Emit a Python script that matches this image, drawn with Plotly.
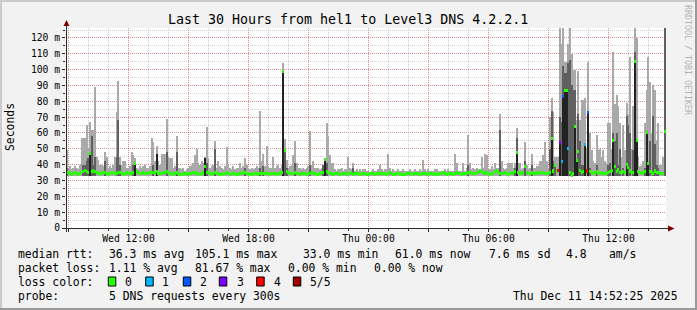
import pandas as pd
import plotly.graph_objects as go

# ---------------- data ----------------
START = "2025-12-10 08:52:25"
END = "2025-12-11 14:52:25"
STEP_MIN = 5  # one sample every 300 s -> 360 samples over 30 h

median_ms = [
    34.8, 35.2, 34.6, 34.1, 34.5, 35.0, 34.3, 34.0, 34.6, 35.4, 35.8, 36.1, 35.5, 34.9, 47.0, 35.9, 36.0, 35.6, 34.8, 34.4,
    34.2, 34.6, 35.1, 34.8, 34.3, 34.0, 34.5, 34.9, 35.3, 34.7, 34.4, 35.0, 35.2, 34.6, 34.1, 34.3, 34.8, 34.5, 34.2, 34.7,
    35.0, 41.0, 35.4, 34.8, 34.3, 34.6, 34.9, 34.4, 34.2, 34.5, 34.8, 35.1, 35.3, 34.9, 35.6, 34.7, 34.5, 34.3, 34.8, 35.0,
    35.4, 34.9, 34.6, 34.2, 34.0, 34.4, 34.8, 34.5, 34.1, 33.9, 34.3, 34.6, 34.4, 34.0, 34.2, 34.5, 34.9, 35.2, 34.7, 34.3,
    34.1, 34.6, 35.0, 38.8, 35.3, 34.8, 34.4, 34.0, 34.3, 35.0, 34.7, 34.4, 34.1, 33.8, 34.2, 34.5, 34.8, 34.3, 34.0, 34.4,
    34.6, 34.2, 33.9, 34.1, 34.5, 34.8, 34.4, 34.9, 34.5, 34.2, 33.8, 34.0, 34.3, 34.6, 34.2, 34.0, 34.4, 34.7, 34.3, 34.5,
    34.8, 34.4, 34.1, 34.3, 34.6, 34.2, 34.0, 34.4, 34.7, 34.9, 99.0, 48.8, 35.6, 35.0, 34.6, 34.2, 34.5, 34.9, 34.6, 34.3,
    34.0, 34.2, 34.5, 34.3, 34.1, 34.4, 34.7, 35.0, 34.6, 34.2, 33.9, 34.1, 34.4, 34.8, 35.1, 43.0, 35.4, 34.9, 34.5, 34.2,
    34.0, 34.3, 34.6, 34.2, 34.0, 34.4, 34.7, 34.3, 34.1, 34.5, 34.8, 34.4, 34.0, 34.2, 34.5, 34.3, 34.0, 34.2, 34.6, 34.3,
    34.1, 34.0, 34.3, 34.5, 34.2, 34.0, 34.4, 34.6, 34.3, 34.7, 34.5, 34.2, 34.0, 34.4, 34.8, 34.3, 34.1, 33.9, 34.2, 34.5,
    34.3, 34.0, 33.8, 34.1, 34.4, 34.2, 34.5, 34.3, 34.0, 34.2, 34.6, 34.3, 34.1, 34.4, 34.7, 34.2, 34.0, 34.3, 34.5, 34.2,
    34.0, 34.3, 34.1, 33.9, 34.2, 34.5, 34.8, 34.4, 34.1, 34.3, 34.6, 34.2, 34.0, 34.4, 34.9, 34.5, 34.2, 34.0, 34.3, 34.6,
    34.4, 34.8, 35.1, 34.6, 34.2, 34.5, 34.9, 35.2, 36.0, 35.4, 34.9, 34.5, 34.8, 34.3, 34.0, 34.4, 34.7, 35.5, 36.2, 35.0,
    34.6, 34.2, 34.5, 34.9, 34.4, 34.1, 34.6, 35.0, 34.7, 35.8, 47.5, 35.2, 34.6, 34.3, 34.8, 39.0, 35.3, 34.7, 34.4, 34.9,
    34.5, 34.2, 34.6, 34.9, 34.4, 34.8, 35.2, 34.7, 34.3, 34.6, 35.0, 56.6, 36.0, 39.6, 35.5, 36.3, 54.0, 41.7, 82.8, 87.0,
    87.0, 50.0, 35.0, 33.0, 34.5, 64.0, 42.5, 48.0, 36.5, 35.2, 35.8, 53.0, 36.0, 72.7, 35.4, 34.9, 34.5, 35.0, 35.8, 34.6,
    34.3, 34.8, 34.5, 34.2, 34.6, 35.2, 35.8, 36.3, 55.1, 39.0, 35.5, 36.8, 35.2, 34.8, 35.6, 34.9, 40.0, 38.0, 36.0, 35.2,
    34.8, 105.1, 55.0, 35.6, 34.9, 34.5, 35.1, 35.6, 60.0, 41.0, 35.8, 35.2, 34.7, 36.0, 35.3, 34.8, 34.5, 34.2, 34.7, 61.0,
]

smoke_max_ms = [
    49, 38, 39, 37, 38, 39, 38, 37, 40, 57, 57, 57, 65, 50, 67, 62, 62, 89, 45, 43,
    40, 40, 39, 48, 45, 38, 39, 38, 40, 45, 73, 93, 45, 40, 42, 42, 38, 38, 39, 48,
    46, 44, 38, 37, 39, 38, 39, 40, 38, 37, 39, 57, 54, 42, 52, 42, 40, 47, 47, 47,
    69, 45, 44, 44, 38, 39, 58, 38, 38, 37, 38, 36, 37, 38, 39, 40, 41, 46, 50, 41,
    40, 42, 41, 45, 64, 44, 38, 39, 40, 55, 38, 42, 39, 38, 37, 39, 51, 40, 38, 37,
    39, 37, 38, 38, 41, 38, 39, 44, 40, 38, 37, 38, 37, 38, 39, 38, 74, 42, 47, 39,
    52, 39, 38, 38, 45, 38, 39, 40, 38, 40, 104, 56, 43, 38, 39, 40, 46, 55, 41, 38,
    38, 37, 38, 37, 38, 39, 61, 40, 42, 38, 38, 38, 37, 38, 40, 43, 66, 58, 46, 41,
    41, 37, 36, 37, 37, 38, 36, 37, 37, 45, 38, 37, 41, 36, 37, 36, 37, 36, 37, 37,
    36, 36, 35.5, 36, 37, 36, 36, 37, 40, 37, 36, 37, 37, 47, 38, 36, 37, 36, 36, 37,
    36, 36, 37, 36, 36, 36, 37, 36, 36, 37, 36, 36, 37, 36, 43, 37, 36, 37, 36, 36,
    36, 37, 37, 36, 36, 36, 36, 37, 36, 37, 36, 36, 36, 47, 41, 36, 36, 36, 41, 36,
    38, 59, 41, 37, 38, 37, 38, 37, 37, 45, 38, 47, 46, 38, 37, 39, 37, 41, 38, 38,
    72, 42, 38, 37, 38, 41, 41, 41, 38, 41, 63, 41, 41, 37, 38, 54, 40, 37, 38, 47,
    38, 38, 39, 39, 42, 42, 46, 54, 42, 37, 70, 82, 73, 45, 45, 45, 130, 116, 130, 105,
    105, 116, 130, 110, 100, 100, 68, 99, 68, 81, 81, 82, 50, 105, 60, 49, 42, 41, 59, 49,
    50, 45, 49, 42, 41, 66, 66, 50, 111, 78, 84, 77, 66, 45, 65, 49, 79, 72, 108, 50,
    77, 130, 120, 45, 39, 40, 42, 66, 87, 108, 92, 60, 90, 87, 55, 66, 40, 40, 45, 130,
]
smoke_min_ms = 32.8

dark_slots = [0, 10, 11, 12, 13, 15, 16, 17, 23, 30, 31, 32, 40, 52, 54, 60, 66, 84, 89, 107,
              116, 118, 131, 132, 137, 146, 154, 156, 172, 241, 260, 269, 270, 275, 279, 290,
              291, 292, 293, 296, 297, 298, 299, 300, 301, 302, 303, 304, 305, 307, 308, 309,
              310, 313, 314, 318, 325, 326, 328, 329, 330, 331, 332, 334, 336, 337, 338, 340,
              341, 342, 347, 348, 350, 352, 353, 354, 355, 359]
dark_top_ms = [38, 40, 40, 42, 44, 58, 40, 45, 42, 45, 68, 40, 40, 40, 47, 48, 48, 41, 50, 38,
               38, 39, 49, 38, 41, 40, 40, 41, 38, 40, 62, 38, 57, 42, 40, 50,
               74, 42, 40, 70, 67, 102, 98, 98, 104, 106, 90, 87, 87, 72, 55, 40,
               40, 73, 38, 40, 40, 41, 60, 55, 60, 40, 50, 38, 71, 65, 60, 49,
               111, 55, 38, 60, 55, 71, 53, 40, 38, 130]

core_slots = [14, 41, 54, 83, 130, 155, 270, 291, 296, 298, 299, 300, 305, 306, 311, 313,
              328, 336, 341, 342, 348, 349]
core_top_ms = [47, 41, 47, 44, 99, 43, 47.5, 56.6, 54, 82.8, 87, 87, 64, 42.5, 53, 72.7,
               55.1, 40, 105.1, 55, 60, 41]

loss_slots = [295, 296, 297, 298, 301, 311, 312, 313]
loss_pings = [4, 3, 1, 2, 1, 1, 4, 2]

loss_legend_labels = ["0", "1", "2", "3", "4", "5/5"]
loss_legend_colors = ["#26ff00", "#00b8ff", "#0059ff", "#7e00ff", "#ff0000", "#a10000"]

x_tickvals = ["2025-12-10 09:00", "2025-12-10 12:00", "2025-12-10 15:00", "2025-12-10 18:00",
              "2025-12-10 21:00", "2025-12-11 00:00", "2025-12-11 03:00", "2025-12-11 06:00",
              "2025-12-11 09:00", "2025-12-11 12:00"]
x_ticktext = ["", "Wed 12:00", "", "Wed 18:00", "", "Thu 00:00", "", "Thu 06:00", "", "Thu 12:00"]
y_tickvals = [0, 10, 20, 30, 40, 50, 60, 70, 80, 90, 100, 110, 120]
y_ticktext = ["0", "10 m", "20 m", "30 m", "40 m", "50 m", "60 m", "70 m", "80 m",
              "90 m", "100 m", "110 m", "120 m"]

title_text = "Last 30 Hours from hel1 to Level3 DNS 4.2.2.1"
rtt_items = ["median rtt:", "36.3 ms avg", "105.1 ms max", "33.0 ms min", "61.0 ms now",
             "7.6 ms sd", "4.8", "am/s"]
loss_items = ["packet loss:", "1.11 % avg", "81.67 % max", "0.00 % min", "0.00 % now"]
probe_items = ["probe:", "5 DNS requests every 300s"]
stamp_text = "Thu Dec 11 14:52:25 2025"

# ---------------- geometry / style ----------------
FW, FH = 697, 310
L, T, W, H = 66, 28, 600, 200
YMAX = 126.3
MONO = "DejaVu Sans Mono"
LIGHT, DARK, CORE = "#a9a9a9", "#606060", "#222222"
GRID, MGRID = "rgba(143,143,143,0.42)", "rgba(240,0,0,0.30)"
AXIS, ARROW = "#2c2c2c", "#7f0000"
MED_HALF = 0.95


def px(x):
    return (x - L) / W


def py(y):
    return (T + H - y) / H


t0 = pd.Timestamp(START)
times = [t0 + pd.Timedelta(minutes=STEP_MIN * i + STEP_MIN / 2) for i in range(len(median_ms))]
bw = STEP_MIN * 60 * 1000

loss_by_slot = dict(zip(loss_slots, loss_pings))
med_colors = [loss_legend_colors[loss_by_slot.get(i, 0)] for i in range(len(median_ms))]

fig = go.Figure()
fig.add_bar(x=times, y=[v - smoke_min_ms for v in smoke_max_ms], base=smoke_min_ms, width=bw,
            marker=dict(color=LIGHT, line=dict(width=0)), hoverinfo="skip")
fig.add_bar(x=[times[i] for i in dark_slots], y=[v - smoke_min_ms for v in dark_top_ms],
            base=smoke_min_ms, width=bw, marker=dict(color=DARK, line=dict(width=0)), hoverinfo="skip")
fig.add_bar(x=[times[i] for i in core_slots], y=[v - smoke_min_ms for v in core_top_ms],
            base=smoke_min_ms, width=bw, marker=dict(color=CORE, line=dict(width=0)), hoverinfo="skip")
fig.add_bar(x=times, y=[2 * MED_HALF] * len(median_ms), base=[m - MED_HALF for m in median_ms],
            width=bw, marker=dict(color=med_colors, line=dict(width=0)), hoverinfo="skip")

ann = []


def text(s, x, y, size=11.4, anchor="left", color="#000", angle=0):
    ann.append(dict(text=s, x=px(x), y=py(y), xref="paper", yref="paper", showarrow=False,
                    xanchor=anchor, yanchor="middle", textangle=angle,
                    font=dict(family=MONO, size=size, color=color)))


text(title_text, 347.5, 19, size=13.3, anchor="center")
text("Seconds", 10, 127, size=11.4, anchor="center", angle=-90)
text("RRDTOOL / TOBI OETIKER", 688, 60, size=8.3, anchor="center", color="#b4b4b4", angle=90)

for s, x in zip(rtt_items, [16, 107.3, 192.7, 301, 393.3, 486.7, 564, 607.3]):
    text(s, x, 254)
for s, x in zip(loss_items, [16, 107.3, 192.7, 286, 371.7]):
    text(s, x, 268.3)
text("loss color:", 16, 281.7)
for s, x in zip(probe_items, [16, 107.3]):
    text(s, x, 296.3)
text(stamp_text, 680, 296.3, anchor="right")

box_x = [108.3, 145.7, 183.3, 219.3, 256.7, 293.3]
lab_x = [122.7, 160, 198.3, 235, 271.7, 308.3]
shapes = []
for lab, col, bx, lx in zip(loss_legend_labels, loss_legend_colors, box_x, lab_x):
    shapes.append(dict(type="rect", xref="paper", yref="paper", x0=px(bx), x1=px(bx + 7.5),
                       y0=py(286), y1=py(277), fillcolor=col, line=dict(color="#000", width=1),
                       layer="above"))
    text(lab, lx, 281.7)

# image frame
shapes += [
    dict(type="line", xref="paper", yref="paper", x0=px(0), x1=px(FW), y0=py(1), y1=py(1),
         line=dict(color="#cbcbcb", width=2)),
    dict(type="line", xref="paper", yref="paper", x0=px(1), x1=px(1), y0=py(0), y1=py(FH),
         line=dict(color="#cbcbcb", width=2)),
    dict(type="line", xref="paper", yref="paper", x0=px(0), x1=px(FW), y0=py(FH - 1), y1=py(FH - 1),
         line=dict(color="#999999", width=2)),
    dict(type="line", xref="paper", yref="paper", x0=px(FW - 1), x1=px(FW - 1), y0=py(0), y1=py(FH),
         line=dict(color="#999999", width=2)),
]
# axes with arrows
shapes += [
    dict(type="line", xref="paper", yref="paper", x0=px(62), x1=px(670), y0=py(228.5), y1=py(228.5),
         line=dict(color=AXIS, width=1), layer="above"),
    dict(type="line", xref="paper", yref="paper", x0=px(66.5), x1=px(66.5), y0=py(232), y1=py(24),
         line=dict(color=AXIS, width=1), layer="above"),
    dict(type="path", xref="paper", yref="paper",
         path=f"M {px(668)} {py(225.5)} L {px(674.5)} {py(228.5)} L {px(668)} {py(231.5)} Z",
         fillcolor=ARROW, line=dict(color=ARROW, width=0), layer="above"),
    dict(type="path", xref="paper", yref="paper",
         path=f"M {px(63.5)} {py(26)} L {px(66.5)} {py(20)} L {px(69.5)} {py(26)} Z",
         fillcolor=ARROW, line=dict(color=ARROW, width=0), layer="above"),
]

fig.update_layout(
    width=FW, height=FH, margin=dict(l=L, r=FW - L - W, t=T, b=FH - T - H, pad=0),
    paper_bgcolor="#f2f2f2", plot_bgcolor="#ffffff",
    barmode="overlay", bargap=0, showlegend=False,
    annotations=ann, shapes=shapes,
    xaxis=dict(type="date", range=[START, END], tickvals=x_tickvals, ticktext=x_ticktext,
               showgrid=True, gridcolor=MGRID, griddash="1px,1px", gridwidth=1,
               ticks="outside", ticklen=3, tickcolor=AXIS, ticklabelstandoff=-2,
               tickfont=dict(family=MONO, size=9.7, color="#000"),
               minor=dict(dtick=3600000, tick0="2025-12-10 00:00:00", showgrid=True,
                          gridcolor=GRID, griddash="1px,1px", gridwidth=1,
                          ticks="outside", ticklen=2, tickcolor=AXIS),
               showline=False, zeroline=False, fixedrange=True),
    yaxis=dict(range=[0, YMAX], tickvals=y_tickvals, ticktext=y_ticktext,
               showgrid=True, gridcolor=MGRID, griddash="1px,1px", gridwidth=1,
               ticks="outside", ticklen=3, tickcolor=AXIS,
               tickfont=dict(family=MONO, size=9.7, color="#000"),
               minor=dict(dtick=5, tick0=0, showgrid=True, gridcolor=GRID,
                          griddash="1px,1px", gridwidth=1, ticks="outside", ticklen=2,
                          tickcolor=AXIS),
               showline=False, zeroline=False, fixedrange=True),
)

fig.write_html("out.html", config={"displayModeBar": False})
